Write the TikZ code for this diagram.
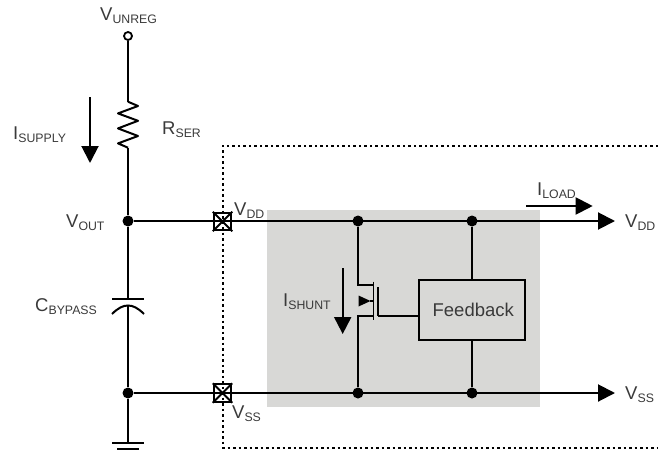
\documentclass[tikz,border=0pt]{standalone}
\usepackage{fontspec}
\setmainfont{Liberation Sans}
\usetikzlibrary{arrows.meta}
\definecolor{txt}{HTML}{3A3A3A}
\definecolor{boxgrey}{HTML}{D8D8D6}
\newcommand{\lbl}[2]{{\fontsize{18.5}{20}\selectfont #1}\raisebox{-3pt}{\fontsize{12.3}{14}\selectfont #2}}
\tikzset{
  x=1pt,y=-1pt,
  wire/.style={draw=black,line width=2pt},
  dots/.style={draw=black,line width=2pt,dash pattern=on 2.5pt off 3pt},
  thin wire/.style={draw=black,line width=1.5pt},
  big arrow/.style={wire,-{Triangle[length=17pt,width=17pt]}},
  junction/.style={circle,fill=black,draw=none,minimum size=11pt,inner sep=0pt},
  pad/.style={rectangle,draw=black,line width=2pt,minimum size=17.5pt,inner sep=0pt},
  label text/.style={text=txt,inner sep=0pt,anchor=base west},
  fbbox/.style={rectangle,draw=black,line width=2pt,minimum width=106.5pt,minimum height=60pt,inner sep=0pt,
     font=\fontsize{18.5}{20}\selectfont,text=txt},
  opencircle/.style={circle,draw=black,fill=white,line width=1.8pt,minimum size=8pt,inner sep=0pt}
}
\begin{document}
\begin{tikzpicture}
\useasboundingbox (0,0) rectangle (658,452);
\fill[boxgrey] (267,210) rectangle (540,407);
% dotted boundary
\coordinate (dotR) at (658,145.7);
\coordinate (dotTL) at (222.5,145.7);
\coordinate (dotBL) at (222.5,447.7);
\coordinate (dotB) at (658,447.7);
\draw[dots] (dotR) -- (dotTL) -- (dotBL) -- (dotB);
% nodes
\node[opencircle] (vin) at (128,36) {};
\node[junction] (jout) at (128,221) {};
\node[junction] (jgnd) at (128,393) {};
\node[junction] (jd1) at (358,221) {};
\node[junction] (jd2) at (472,221) {};
\node[junction] (js1) at (358,393) {};
\node[junction] (js2) at (472,393) {};
\node[fbbox] (fb) at (471.75,310) {\hspace{3pt}Feedback};
\coordinate (rtop) at (128,101.7);
\coordinate (rbot) at (128,147.7);
\coordinate (captop) at (128,299);
\coordinate (capbot) at (128,305.5);
\coordinate (gnd) at (128,443.3);
\coordinate (vddend) at (615,221);
\coordinate (vssend) at (615,393);
\coordinate (drain) at (358,285);
\coordinate (source) at (358,316);
\coordinate (chD) at (373.3,285);
\coordinate (chS) at (373.3,316);
\coordinate (gate) at (378,316);
% wires
\draw[wire] (vin) -- (rtop);
\draw[wire,line join=round] (rtop) -- (138,106) -- (118,113.4) -- (138,120.8) -- (118,128.4) -- (138,136) -- (118,143.4) -- (rbot);
\draw[wire] (rbot) -- (jout);
\draw[wire] (jout) -- (captop);
\draw[wire] (112,299) -- (144,299);
\draw[wire] (112,314) .. controls (118,308) and (123,305.5) .. (capbot) .. controls (133,305.5) and (138,308) .. (144,314);
\draw[wire] (capbot) -- (jgnd) -- (gnd);
\draw[wire] (112,443.3) -- (144,443.3);
\draw[wire] (117,449) -- (139,449);
\draw[big arrow] (jout) -- (vddend);
\draw[big arrow] (jgnd) -- (vssend);
\node[pad] (p1) at (222.5,221.5) {};
\node[pad] (p2) at (222.5,393) {};
\draw[wire] (p1.south west) -- (p1.north east) (p1.north west) -- (p1.south east);
\draw[wire] (p2.south west) -- (p2.north east) (p2.north west) -- (p2.south east);
\draw[wire] (jd1) -- (drain) -- (chD);
\draw[wire] (js1) -- (source) -- (chS);
\draw[thin wire] (373.3,281.7) -- (373.3,320);
\draw[wire] (378,287) -- (378,316);
\draw[wire] (gate) -- (fb.west |- gate);
\draw[wire] (jd2) -- (fb.north -| jd2);
\draw[wire] (js2) -- (fb.south -| js2);
\fill[black] (358.5,295.5) -- (370.5,301) -- (358.5,306.5) -- cycle;
\draw[thin wire] (370,301) -- (373,301);
% current arrows
\draw[big arrow] (90,97) -- (90,163);
\draw[big arrow] (342.7,268) -- (342.7,334);
\draw[big arrow] (526,206) -- (592.7,206);
% labels
\node[label text] (l1) at (100,21) {\lbl{V}{UNREG}};
\node[label text] (l2) at (162,134) {\lbl{R}{SER}};
\node[label text] (l3) at (66,227) {\lbl{V}{OUT}};
\node[label text] (l4) at (234,215) {\lbl{V}{DD}};
\node[label text] (l5) at (13,139) {\lbl{I}{SUPPLY}};
\node[label text] (l6) at (35,311) {\lbl{C}{BYPASS}};
\node[label text] (l7) at (283,306.7) {\lbl{I}{SHUNT}};
\node[label text] (l8) at (232,418) {\lbl{V}{SS}};
\node[label text] (l9) at (537,195) {\lbl{I}{LOAD}};
\node[label text] (l10) at (625,227) {\lbl{V}{DD}};
\node[label text] (l11) at (625,399) {\lbl{V}{SS}};
\end{tikzpicture}
\end{document}
